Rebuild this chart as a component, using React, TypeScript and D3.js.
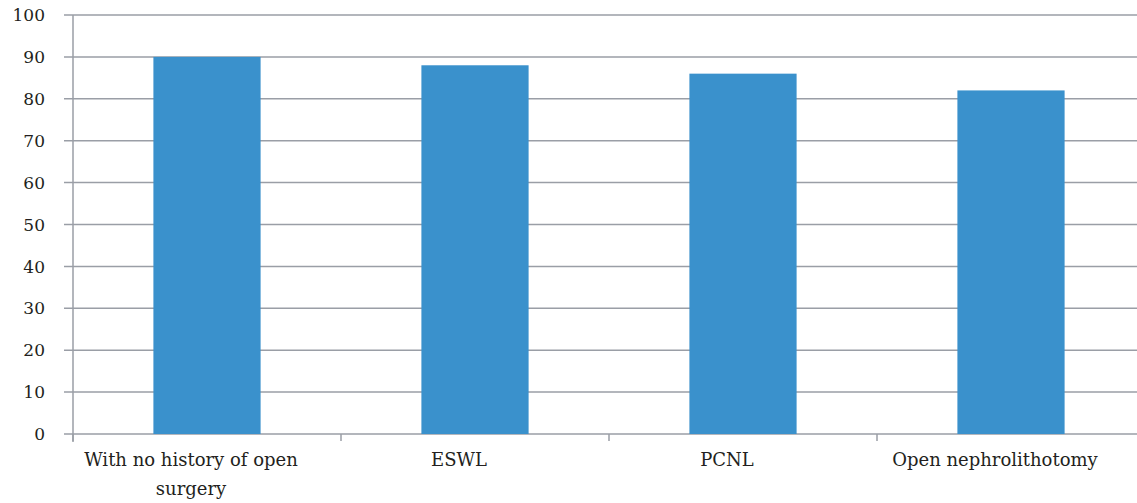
import React from "react";
import * as d3 from "d3";

const categories = ["With no history of open surgery", "ESWL", "PCNL", "Open nephrolithotomy"];
const values = [90, 88, 86, 82];
const yTicks = [0, 10, 20, 30, 40, 50, 60, 70, 80, 90, 100];
const labelLines = [["With no history of open", "surgery"], ["ESWL"], ["PCNL"], ["Open nephrolithotomy"]];

const W = 1137, H = 503;
const margin = { left: 73, top: 15, bottom: 69 };
const plotRight = 1145;

export default function App() {
  const x = d3.scaleBand().domain(categories).range([margin.left, plotRight]).paddingInner(0.6).paddingOuter(0.3);
  const xEdges = d3.scaleLinear().domain([0, categories.length]).range([margin.left, plotRight]);
  const y = d3.scaleLinear().domain([0, 100]).range([H - margin.bottom, margin.top]);
  const font = "'DejaVu Serif', serif";
  const grid = "#9a9ea6";
  return (
    <svg width={W} height={H} style={{ position: "absolute", left: 0, top: 0 }}>
      <rect width={W} height={H} fill="#fff" />
      {yTicks.map((t) => (
        <g key={t}>
          <line x1={64} x2={W} y1={y(t)} y2={y(t)} stroke={grid} strokeWidth={1.5} />
          <text x={45} y={y(t)} dy="0.36em" textAnchor="end" fontFamily={font} fontSize={17} fill="#231f20">{t}</text>
        </g>
      ))}
      <line x1={margin.left} x2={margin.left} y1={y(100)} y2={y(0) + 8} stroke={grid} strokeWidth={1.5} />
      {d3.range(categories.length + 1).map((i) => (
        <line key={i} x1={xEdges(i)} x2={xEdges(i)} y1={y(0)} y2={y(0) + 7} stroke={grid} strokeWidth={1.5} />
      ))}
      {categories.map((c, i) => (
        <rect key={c} x={x(c)} y={y(values[i])} width={x.bandwidth()} height={y(0) - y(values[i])} fill="#3a91cc" />
      ))}
      {categories.map((c, i) => (
        <text key={c} x={(x(c) as number) + x.bandwidth() / 2 - 16} y={466} textAnchor="middle" fontFamily={font} fontSize={18} fill="#231f20">
          {labelLines[i].map((l, j) => (
            <tspan key={j} x={(x(c) as number) + x.bandwidth() / 2 - 16} dy={j === 0 ? 0 : 29}>{l}</tspan>
          ))}
        </text>
      ))}
    </svg>
  );
}
